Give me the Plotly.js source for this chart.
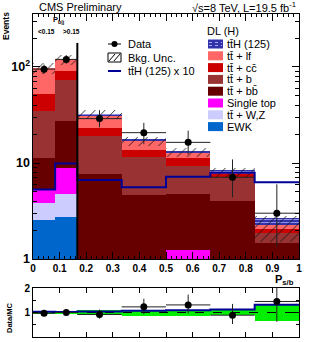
<!DOCTYPE html>
<html>
<head>
<meta charset="utf-8">
<script src="https://cdn.plot.ly/plotly-3.0.1.min.js"></script>
<style>
html, body { margin: 0; padding: 0; background: #fff; }
#chart { width: 332px; height: 342px; }
</style>
</head>
<body>
<div id="chart"></div>
<script>
// bins of P_s/b (first two bins are the P_b|j < 0.15 / > 0.15 split)
var binEdges = [0, 1/12, 1/6, 1/3, 1/2, 2/3, 5/6, 1];

// stacked backgrounds, bottom to top
var ewk       = [2.55, 2.76, 0.3, 0.3, 0.3, 0.25, 0.2];
var ttVZ      = [1.31, 1.99, 0.35, 0.3, 0.5, 0.25, 0.15];
var singleTop = [1.44, 4.05, 0.2, 0.2, 0.44, 0.2, 0.15];
var ttbb      = [6.1, 18.8, 6.85, 3.8, 3.46, 3.3, 0.96];
var ttb       = [23.6, 45.4, 11.4, 6.9, 4.7, 3.1, 0.39];
var ttcc      = [17, 18, 4.1, 2.2, 1.8, 0.6, 0.19];
var ttlf      = [45, 29, 7.8, 3.4, 1.6, 0.2, 0.22];
var ttH       = [1.0, 2.0, 1.4, 0.6, 0.6, 0.6, 0.39];

var ttHx10    = [5.3, 9.9, 6.65, 5.6, 7.2, 7.9, 6.3];
var uncLow    = [85, 106, 28.5, 15.2, 11.5, 6.9, 1.5];
var uncHigh   = [110, 134, 35.5, 18.5, 14.2, 8.9, 2.8];

var dataVals    = [95, 120, 29, 20.7, 16.4, 7.1, 3.0];
var dataErrUp   = [11, 13, 6.5, 5.5, 5.3, 3.8, 3.0];
var dataErrDown = [10, 12, 5.5, 5.0, 4.1, 2.7, 1.65];

// ratio panel
var ratioVals    = [0.97, 1.0, 0.92, 1.23, 1.31, 0.89, 1.45];
var ratioErrUp   = [0.09, 0.09, 0.2, 0.33, 0.42, 0.46, 0.62];
var ratioErrDown = [0.08, 0.08, 0.17, 0.3, 0.35, 0.36, 0.83];
var bandLow      = [0.92, 0.92, 0.88, 0.86, 0.87, 0.88, 0.65];
var bandHigh     = [1.07, 1.07, 1.1, 1.1, 1.1, 1.1, 1.3];
var sigRatio     = [1.03, 1.02, 1.04, 1.07, 1.09, 1.12, 1.32];

var separatorX = 1/6;
var separatorTop = 178;

var TT = 't' + 't\u0304';
var FONT = 'Liberation Sans, Arial, sans-serif';

var components = [
	{name: 'EWK', vals: ewk, color: '#0066cc'},
	{name: TT + ' + W,Z', vals: ttVZ, color: '#ccccff'},
	{name: 'Single top', vals: singleTop, color: '#ff00ff'},
	{name: TT + ' + b' + 'b\u0304', vals: ttbb, color: '#660000'},
	{name: TT + ' + b', vals: ttb, color: '#993333'},
	{name: TT + ' + c' + 'c\u0304', vals: ttcc, color: '#cc0000'},
	{name: TT + ' + lf', vals: ttlf, color: '#ff6666'},
	{name: TT + 'H (125)', vals: ttH, color: '#3333aa', pattern: true}
];

var centers = [], widths = [], halfW = [];
for (var i = 0; i < binEdges.length - 1; i++) {
	centers.push((binEdges[i] + binEdges[i + 1]) / 2);
	widths.push(binEdges[i + 1] - binEdges[i]);
	halfW.push((binEdges[i + 1] - binEdges[i]) / 2);
}

var data = [];
components.forEach(function (c) {
	var marker = {color: c.color, line: {width: 0}};
	if (c.pattern) {
		marker.pattern = {shape: '-', fgcolor: '#9999ee', bgcolor: c.color, size: 3, solidity: 0.3};
	}
	data.push({
		type: 'bar', x: centers, y: c.vals, width: widths,
		marker: marker, xaxis: 'x', yaxis: 'y', hoverinfo: 'skip'
	});
});

// background uncertainty (hatched)
data.push({
	type: 'bar', x: centers, width: widths,
	base: uncLow,
	y: uncHigh.map(function (h, i) { return h - uncLow[i]; }),
	marker: {color: 'rgba(0,0,0,0)', line: {width: 0},
		pattern: {shape: '/', fgcolor: '#111', bgcolor: 'rgba(0,0,0,0)', size: 7, solidity: 0.12}},
	xaxis: 'x', yaxis: 'y'
});

// ttH x 10 step line
data.push({
	type: 'scatter', mode: 'lines', x: binEdges,
	y: ttHx10.concat([ttHx10[ttHx10.length - 1]]),
	line: {shape: 'hv', color: '#000099', width: 2},
	xaxis: 'x', yaxis: 'y'
});

// separator between P_b|j categories
data.push({
	type: 'scatter', mode: 'lines', x: [separatorX, separatorX], y: [1, separatorTop],
	line: {color: '#000', width: 2}, xaxis: 'x', yaxis: 'y'
});

data.push({
	type: 'scatter', mode: 'markers', x: centers, y: dataVals,
	marker: {color: '#000', size: 7},
	error_x: {type: 'data', array: halfW, color: '#222', thickness: 1, width: 0},
	error_y: {type: 'data', symmetric: false, array: dataErrUp, arrayminus: dataErrDown,
		color: '#222', thickness: 1, width: 0},
	xaxis: 'x', yaxis: 'y'
});

// ratio panel
data.push({
	type: 'bar', x: centers, width: widths, base: bandLow,
	y: bandHigh.map(function (h, i) { return h - bandLow[i]; }),
	marker: {color: '#00ee00', line: {width: 0}},
	xaxis: 'x2', yaxis: 'y2'
});
data.push({
	type: 'scatter', mode: 'lines', x: [0, 1], y: [1, 1],
	line: {color: '#000', width: 1, dash: 'dash'}, xaxis: 'x2', yaxis: 'y2'
});
data.push({
	type: 'scatter', mode: 'lines', x: binEdges,
	y: sigRatio.concat([sigRatio[sigRatio.length - 1]]),
	line: {shape: 'hv', color: '#000099', width: 2},
	xaxis: 'x2', yaxis: 'y2'
});
data.push({
	type: 'scatter', mode: 'markers', x: centers, y: ratioVals,
	marker: {color: '#000', size: 7},
	error_x: {type: 'data', array: halfW, color: '#222', thickness: 1, width: 0},
	error_y: {type: 'data', symmetric: false, array: ratioErrUp, arrayminus: ratioErrDown,
		color: '#222', thickness: 1, width: 0},
	xaxis: 'x2', yaxis: 'y2', cliponaxis: true
});

// pixel -> paper helpers
var PL = 33, PR = 299, PT = 14, PB = 337;
function px(x) { return (x - PL) / (PR - PL); }
function py(y) { return (PB - y) / (PB - PT); }

var annotations = [];
var shapes = [];
function label(text, x, y, size, opts) {
	var a = {text: text, x: px(x), y: py(y), xref: 'paper', yref: 'paper',
		showarrow: false, font: {family: FONT, size: size, color: '#000'},
		xanchor: 'left', yanchor: 'middle'};
	for (var k in opts) a[k] = opts[k];
	annotations.push(a);
}

label('CMS Preliminary', 37, 7, 11);
label('\u221As=8 TeV, L=19.5 fb<sup>-1</sup>', 298, 7, 11, {xanchor: 'right'});
label('<b>Events</b>', 6, 26, 8.5, {xanchor: 'center', textangle: -90});
label('<b>Data/MC</b>', 9, 318, 7.5, {xanchor: 'center', textangle: -90});
label('<b>P<sub>s/b</sub></b>', 296, 280, 11, {xanchor: 'right'});
label('<b>P<sub>b|j</sub></b>', 51, 20, 7.5);
label('<b>&lt;0.15</b>', 36, 32, 6.5);
label('<b>&gt;0.15</b>', 61, 32, 6.5);

// left legend
var lx0 = 108, lx1 = 121;
shapes.push({type: 'line', xref: 'paper', yref: 'paper', x0: px(lx0), x1: px(lx1), y0: py(44), y1: py(44), line: {color: '#000', width: 1}});
shapes.push({type: 'circle', xref: 'paper', yref: 'paper', x0: px(111.5), x1: px(117.5), y0: py(41), y1: py(47), fillcolor: '#000', line: {width: 0}});
label('Data', 126, 44, 11);
shapes.push({type: 'rect', xref: 'paper', yref: 'paper', x0: px(lx0), x1: px(lx1), y0: py(53), y1: py(62), line: {color: '#000', width: 1}});
shapes.push({type: 'path', xref: 'paper', yref: 'paper',
	path: 'M' + px(lx0 + 1) + ',' + py(61) + ' L' + px(lx0 + 7) + ',' + py(54) +
		' M' + px(lx0 + 6) + ',' + py(61) + ' L' + px(lx0 + 12) + ',' + py(54),
	line: {color: '#000', width: 1}});
label('Bkg. Unc.', 126, 57.5, 11);
shapes.push({type: 'line', xref: 'paper', yref: 'paper', x0: px(lx0), x1: px(lx1), y0: py(71), y1: py(71), line: {color: '#000099', width: 2}});
label(TT + 'H (125) x 10', 126, 71, 11);

// right legend
label('DL (H)', 205, 31.5, 11);
var rowY = 44, rowStep = 11.8;
components.slice().reverse().forEach(function (c, i) {
	var y = rowY + i * rowStep;
	shapes.push({type: 'rect', xref: 'paper', yref: 'paper', x0: px(208), x1: px(223),
		y0: py(y - 4.5), y1: py(y + 4.5), fillcolor: c.color, line: {width: 0}});
	if (c.pattern) {
		shapes.push({type: 'path', xref: 'paper', yref: 'paper',
			path: 'M' + px(209) + ',' + py(y - 1.5) + ' L' + px(222) + ',' + py(y - 1.5) +
				' M' + px(209) + ',' + py(y + 1.5) + ' L' + px(222) + ',' + py(y + 1.5),
			line: {color: '#aaaaff', width: 1, dash: 'dot'}});
	}
	label(c.name, 225, y, 11);
});

var tickFont = {family: FONT, size: 10, color: '#000', weight: 'bold'};

var layout = {
	width: 332, height: 342,
	margin: {l: 33, r: 33, t: 14, b: 5},
	paper_bgcolor: '#fff', plot_bgcolor: '#fff',
	showlegend: false,
	barmode: 'stack', bargap: 0,
	font: {family: FONT},
	xaxis: {
		domain: [0, 1], anchor: 'y', range: [0, 1], dtick: 0.1,
		ticks: 'inside', ticklen: 7, tickcolor: '#000', showgrid: false, zeroline: false,
		showline: true, linecolor: '#000', linewidth: 1, mirror: 'ticks',
		tickfont: tickFont, minor: {ticks: 'inside', ticklen: 3, dtick: 0.02, tickcolor: '#000'}
	},
	yaxis: {
		domain: [py(259), 1], anchor: 'x', type: 'log', range: [0, 2.552],
		dtick: 1, exponentformat: 'power',
		ticks: 'inside', ticklen: 7, tickcolor: '#000', showgrid: false, zeroline: false,
		showline: true, linecolor: '#000', linewidth: 1, mirror: 'ticks',
		tickfont: tickFont, minor: {ticks: 'inside', ticklen: 4, dtick: 'D1', tickcolor: '#000'}
	},
	xaxis2: {
		domain: [0, 1], anchor: 'y2', range: [0, 1], dtick: 0.1, matches: 'x',
		showticklabels: false,
		ticks: 'inside', ticklen: 5, tickcolor: '#000', showgrid: false, zeroline: false,
		showline: true, linecolor: '#000', linewidth: 1, mirror: 'ticks'
	},
	yaxis2: {
		domain: [0, py(288)], anchor: 'x2', range: [0, 2], dtick: 1,
		ticks: 'inside', ticklen: 5, tickcolor: '#000', showgrid: false, zeroline: false,
		showline: true, linecolor: '#000', linewidth: 1, mirror: 'ticks',
		tickfont: tickFont, minor: {ticks: 'inside', ticklen: 3, dtick: 0.5, tickcolor: '#000'}
	},
	annotations: annotations,
	shapes: shapes
};

Plotly.newPlot('chart', data, layout, {displayModeBar: false, staticPlot: true});
</script>
</body>
</html>
